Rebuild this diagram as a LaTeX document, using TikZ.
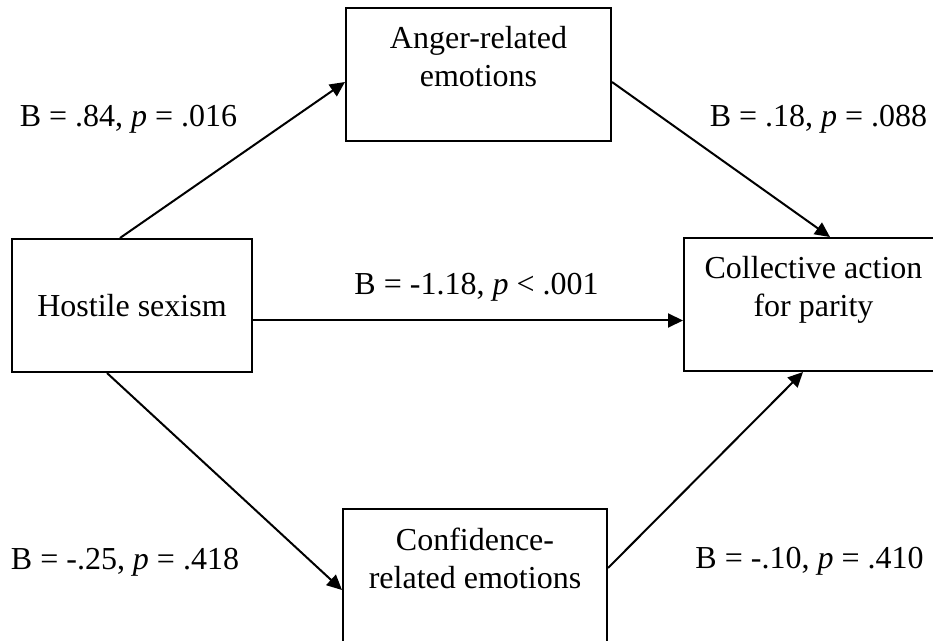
\documentclass[tikz,border=0pt]{standalone}
\usepackage{fontspec}
\setmainfont{Liberation Serif}
\usetikzlibrary{arrows.meta,positioning}

\begin{document}
\begin{tikzpicture}[
  x=0.5pt, y=-0.5pt,
  font=\fontsize{16}{19}\selectfont,
  box/.style={
    draw,
    line width=1pt,
    minimum width=#1,
    minimum height=66.5pt,
    inner sep=0pt,
    align=center
  },
  boxtext/.style={align=center, inner sep=0pt},
  coef/.style={anchor=base, inner sep=0pt},
  arrow/.style={-{Triangle[length=7.5pt,width=7pt]}, line width=1pt}
]
\useasboundingbox (0,0) rectangle (933,641);
% variables
\node[box=120pt] (hostile) at (132,305.5) {Hostile sexism};
\node[box=132.5pt] (anger) at (478.5,74.5) {};
\node[box=129.5pt] (collective) at (813.5,304.5) {};
\node[box=132pt, minimum height=70pt] (confidence) at (475,579) {};
\node[boxtext, below=9.6pt of anger.north] (angertext) {Anger-related\\emotions};
\node[boxtext, below=9.6pt of collective.north] (collectivetext) {Collective action\\for parity};
\node[boxtext, below=9.6pt of confidence.north] (confidencetext) {Confidence-\\related emotions};
% paths
\draw[arrow] ([xshift=-6pt]hostile.north) -- ([yshift=-3.75pt]anger.west);
\draw[arrow] ([yshift=-3.75pt]anger.east) -- ([xshift=8.25pt]collective.north);
\draw[arrow] ([yshift=-7.5pt]hostile.east) -- ([yshift=-7.5pt]hostile.east -| collective.west);
\draw[arrow] ([xshift=-12.5pt]hostile.south) -- ([yshift=-5.5pt]confidence.west);
\draw[arrow] ([yshift=5.5pt]confidence.east) -- ([xshift=-5.25pt]collective.south);
% coefficients
\node[coef] (bangerin) at (128.5,127) {B = .84, \textit{p} = .016};
\node[coef] (bangerout) at (818.5,127) {B = .18, \textit{p} = .088};
\node[coef] (bdirect) at (476.5,295) {B = -1.18, \textit{p} < .001};
\node[coef] (bconfin) at (125,570) {B = -.25, \textit{p} = .418};
\node[coef] (bconfout) at (809.5,569) {B = -.10, \textit{p} = .410};
\end{tikzpicture}
\end{document}
